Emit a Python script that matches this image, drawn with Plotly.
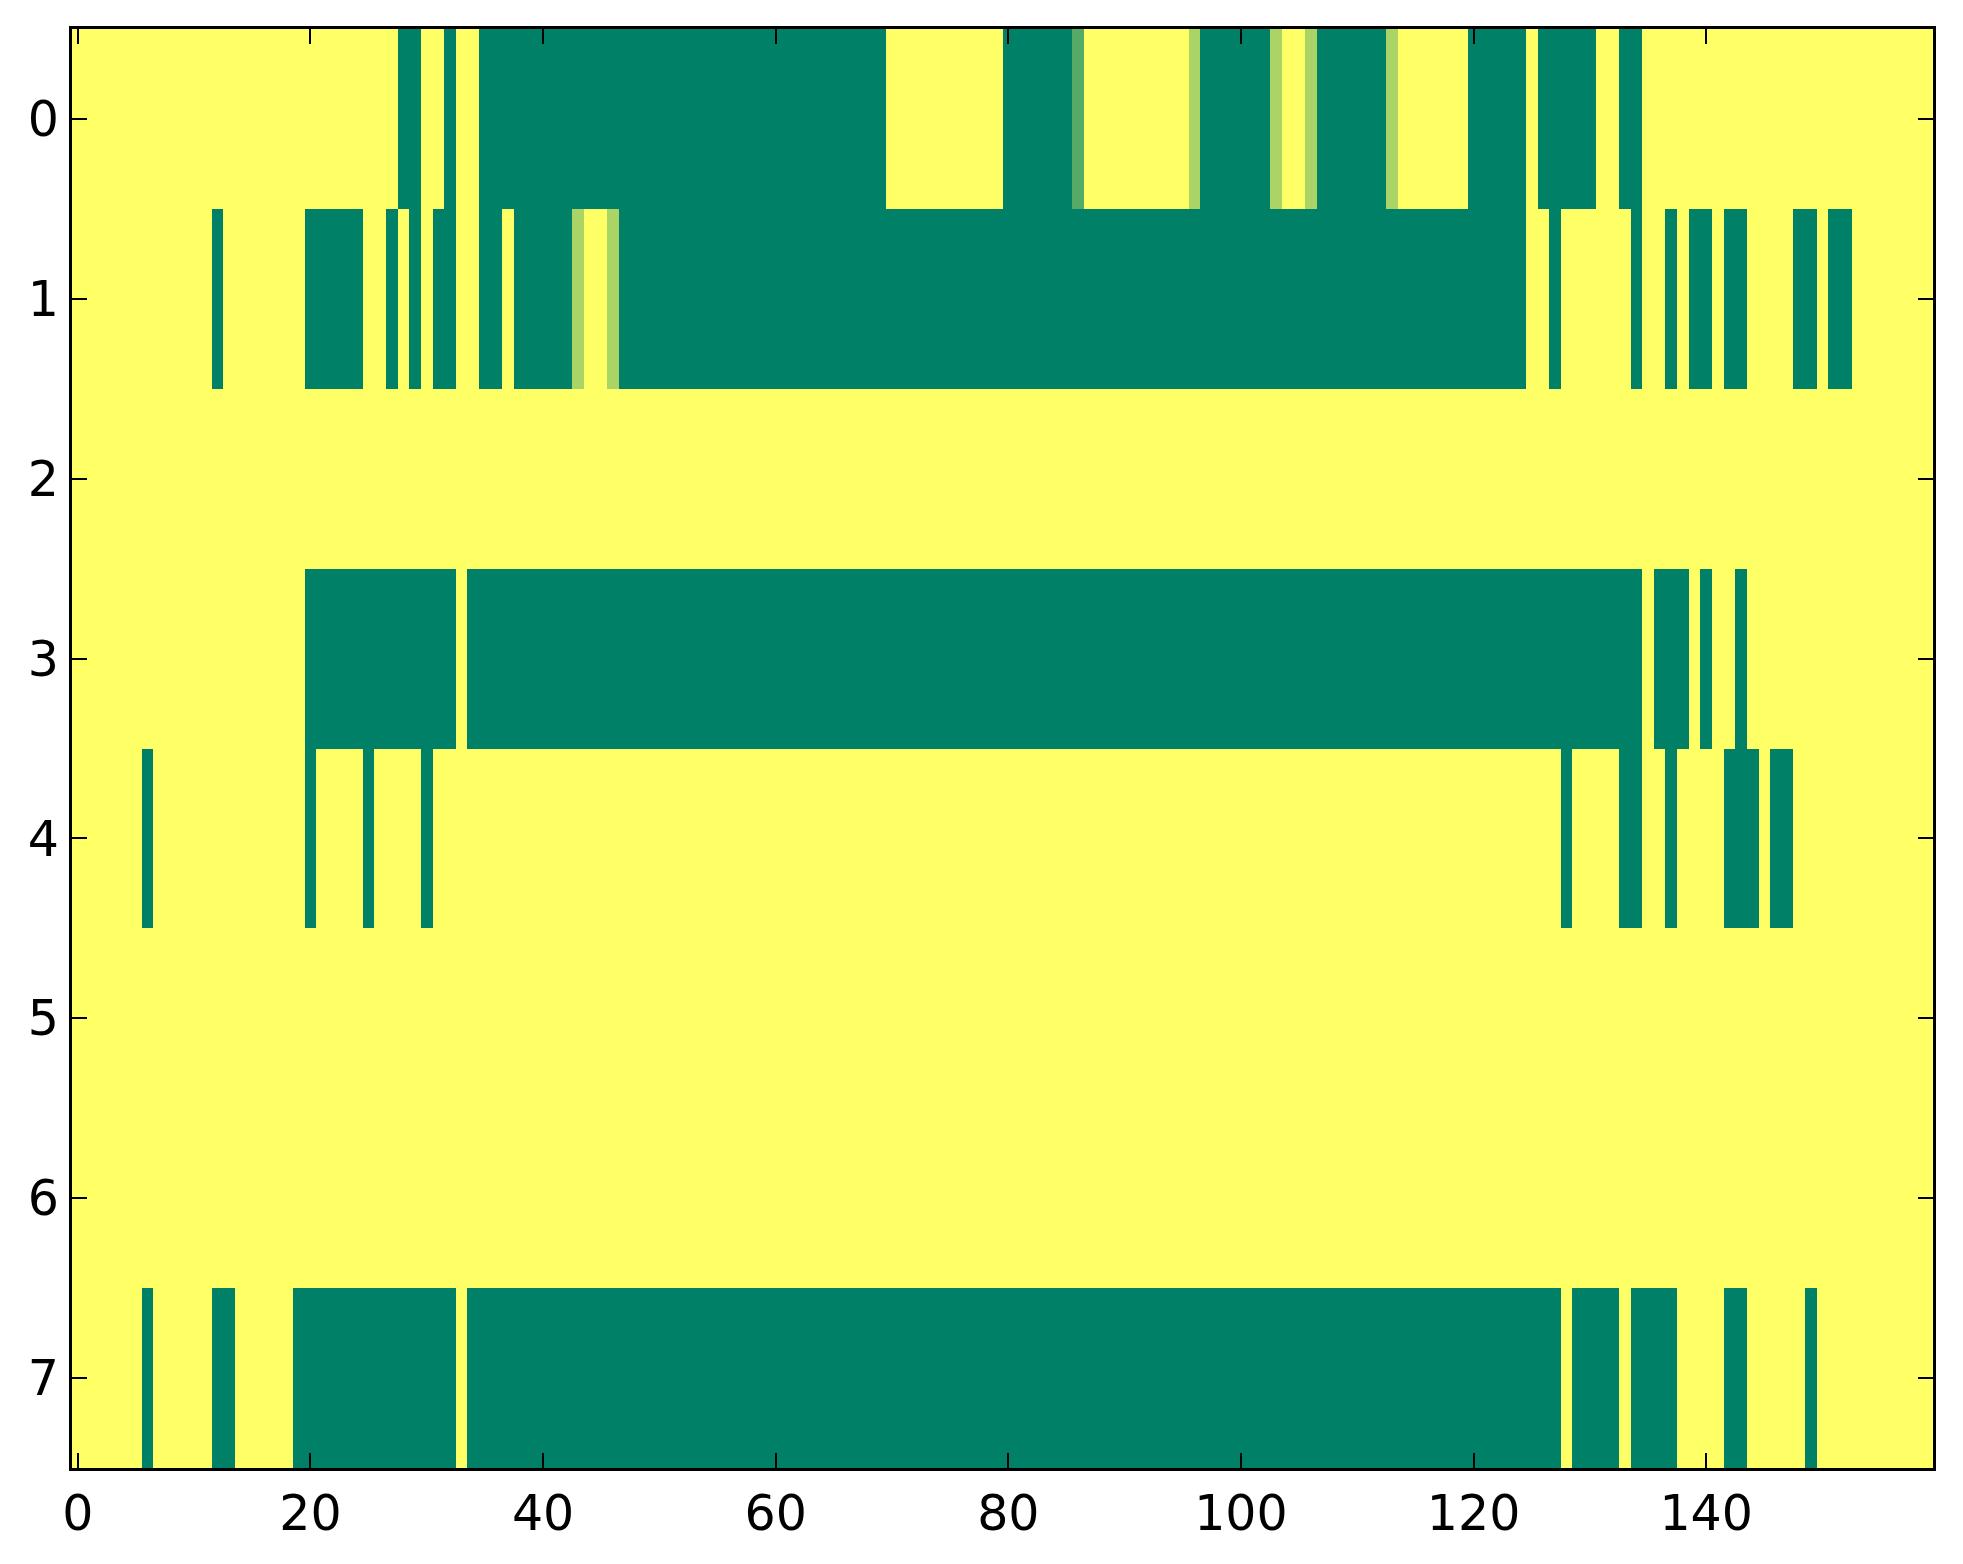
import plotly.graph_objects as go

# one string per row, each digit = one cell (0 = none, 3 = full), grouped by 10 columns
row_0 = ("0000000000 0000000000 0000000033 0030033333 3333333333 3333333333 3333333333 0000000000 "
         "3333332000 0000001333 3331001333 3331000000 3333303333 3003300000 0000000000 0000000000")
row_1 = ("0000000000 0030000000 3333300303 0330033033 3331001333 3333333333 3333333333 3333333333 "
         "3333333333 3333333333 3333333333 3333333333 3333300300 0000300303 3033000033 0330000000")
row_2 = ("0000000000 0000000000 0000000000 0000000000 0000000000 0000000000 0000000000 0000000000 "
         "0000000000 0000000000 0000000000 0000000000 0000000000 0000000000 0000000000 0000000000")
row_3 = ("0000000000 0000000000 3333333333 3330333333 3333333333 3333333333 3333333333 3333333333 "
         "3333333333 3333333333 3333333333 3333333333 3333333333 3333303330 3003000000 0000000000")
row_4 = ("0000003000 0000000000 3000030000 3000000000 0000000000 0000000000 0000000000 0000000000 "
         "0000000000 0000000000 0000000000 0000000000 0000000030 0003300300 0033303300 0000000000")
row_5 = row_2
row_6 = row_2
row_7 = ("0000003000 0033000003 3333333333 3330333333 3333333333 3333333333 3333333333 3333333333 "
         "3333333333 3333333333 3333333333 3333333333 3333333303 3330333300 0033000003 0000000000")

rows = [row_0, row_1, row_2, row_3, row_4, row_5, row_6, row_7]
x_ticks = [0, 20, 40, 60, 80, 100, 120, 140]
y_ticks = [0, 1, 2, 3, 4, 5, 6, 7]


def to_matrix(rows):
    return [[int(c) for c in r.replace(" ", "")] for r in rows]


def plot_grid(z):
    ncol = len(z[0])
    fig = go.Figure(go.Heatmap(
        z=z,
        x=list(range(ncol)),
        y=list(range(len(z))),
        zmin=0, zmax=3,
        colorscale=[[0, "#FFFF66"], [1, "#008066"]],  # summer_r
        showscale=False,
    ))
    axis_style = dict(showline=True, linecolor="black", linewidth=3.3, mirror="allticks",
                      ticks="inside", ticklen=15, tickwidth=2, tickcolor="black",
                      showgrid=False, zeroline=False)
    fig.update_xaxes(range=[-0.5, ncol - 0.5], tickvals=x_ticks, **axis_style)
    fig.update_yaxes(range=[len(z) - 0.5, -0.5], tickvals=y_ticks, **axis_style)
    # page body has an 8px margin, so margins are shifted by that
    fig.update_layout(
        width=1963, height=1564,
        margin=dict(l=64, r=38, t=21, b=104),
        paper_bgcolor="white", plot_bgcolor="white",
        font=dict(family="DejaVu Sans", size=49, color="black"),
    )
    return fig


if __name__ == "__main__":
    fig = plot_grid(to_matrix(rows))
    fig.write_html("out.html")
